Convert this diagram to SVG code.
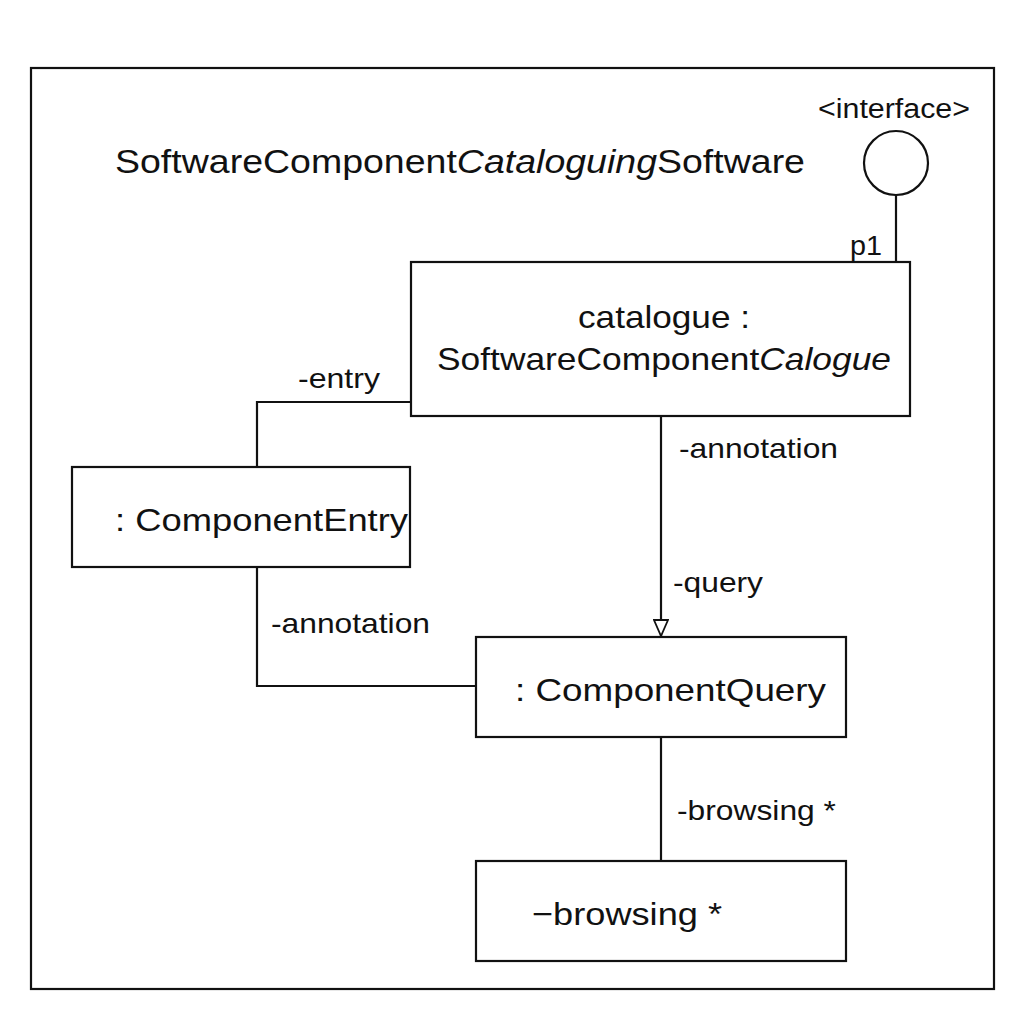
<svg xmlns="http://www.w3.org/2000/svg" width="1024" height="1024" viewBox="0 0 1024 1024">
<style>
.box{fill:#fff;stroke:#111;stroke-width:2.2}
.ln{fill:none;stroke:#111;stroke-width:2.2}
text{font-family:"Liberation Sans",Arial,sans-serif;fill:#111}
.nt{font-size:32px}
.lb{font-size:28px}
</style>
<defs>
<marker id="tri" markerWidth="18" markerHeight="16" refX="17" refY="8" orient="auto" markerUnits="userSpaceOnUse" viewBox="0 0 18 16">
<path d="M1,1 L17,8 L1,15 Z" fill="#fff" stroke="#111" stroke-width="1.8"/>
</marker>
</defs>
<rect width="1024" height="1024" fill="#fff"/>
<g id="frame">
<rect x="31" y="68" width="963" height="921" class="box"/>
<text x="115" y="173" font-size="34" textLength="690" lengthAdjust="spacingAndGlyphs">SoftwareComponent<tspan font-style="italic">Cataloguing</tspan>Software</text>
</g>
<g id="interface">
<circle cx="896" cy="163" r="32" class="box"/>
<text x="818" y="118" font-size="27" textLength="152" lengthAdjust="spacingAndGlyphs">&lt;interface&gt;</text>
</g>
<g id="connectors">
<line x1="896" y1="195" x2="896" y2="262" class="ln"/>
<text x="850" y="255" class="lb" textLength="32" lengthAdjust="spacingAndGlyphs">p1</text>
<polyline points="411,402 257,402 257,467" class="ln"/>
<text x="298" y="388" class="lb" textLength="82" lengthAdjust="spacingAndGlyphs">-entry</text>
<polyline points="257,567 257,686 476,686" class="ln"/>
<text x="271" y="633" class="lb" textLength="159" lengthAdjust="spacingAndGlyphs">-annotation</text>
<line x1="661" y1="416" x2="661" y2="636" class="ln" marker-end="url(#tri)"/>
<text x="679" y="458" class="lb" textLength="159" lengthAdjust="spacingAndGlyphs">-annotation</text>
<text x="673" y="592" class="lb" textLength="90" lengthAdjust="spacingAndGlyphs">-query</text>
<line x1="661" y1="737" x2="661" y2="861" class="ln"/>
<text x="677" y="820" class="lb" textLength="159" lengthAdjust="spacingAndGlyphs">-browsing *</text>
</g>
<g id="catalogue">
<rect x="411" y="262" width="499" height="154" class="box"/>
<text x="578" y="328" class="nt" textLength="172" lengthAdjust="spacingAndGlyphs">catalogue :</text>
<text x="437" y="370" class="nt" textLength="454" lengthAdjust="spacingAndGlyphs">SoftwareComponent<tspan font-style="italic">Calogue</tspan></text>
</g>
<g id="componentEntry">
<rect x="72" y="467" width="338" height="100" class="box"/>
<text x="115" y="531" class="nt" textLength="293" lengthAdjust="spacingAndGlyphs">: ComponentEntry</text>
</g>
<g id="componentQuery">
<rect x="476" y="637" width="370" height="100" class="box"/>
<text x="515" y="701" class="nt" textLength="311" lengthAdjust="spacingAndGlyphs">: ComponentQuery</text>
</g>
<g id="browsing">
<rect x="476" y="861" width="370" height="100" class="box"/>
<text x="532" y="925" class="nt" textLength="190" lengthAdjust="spacingAndGlyphs">−browsing *</text>
</g>
</svg>
